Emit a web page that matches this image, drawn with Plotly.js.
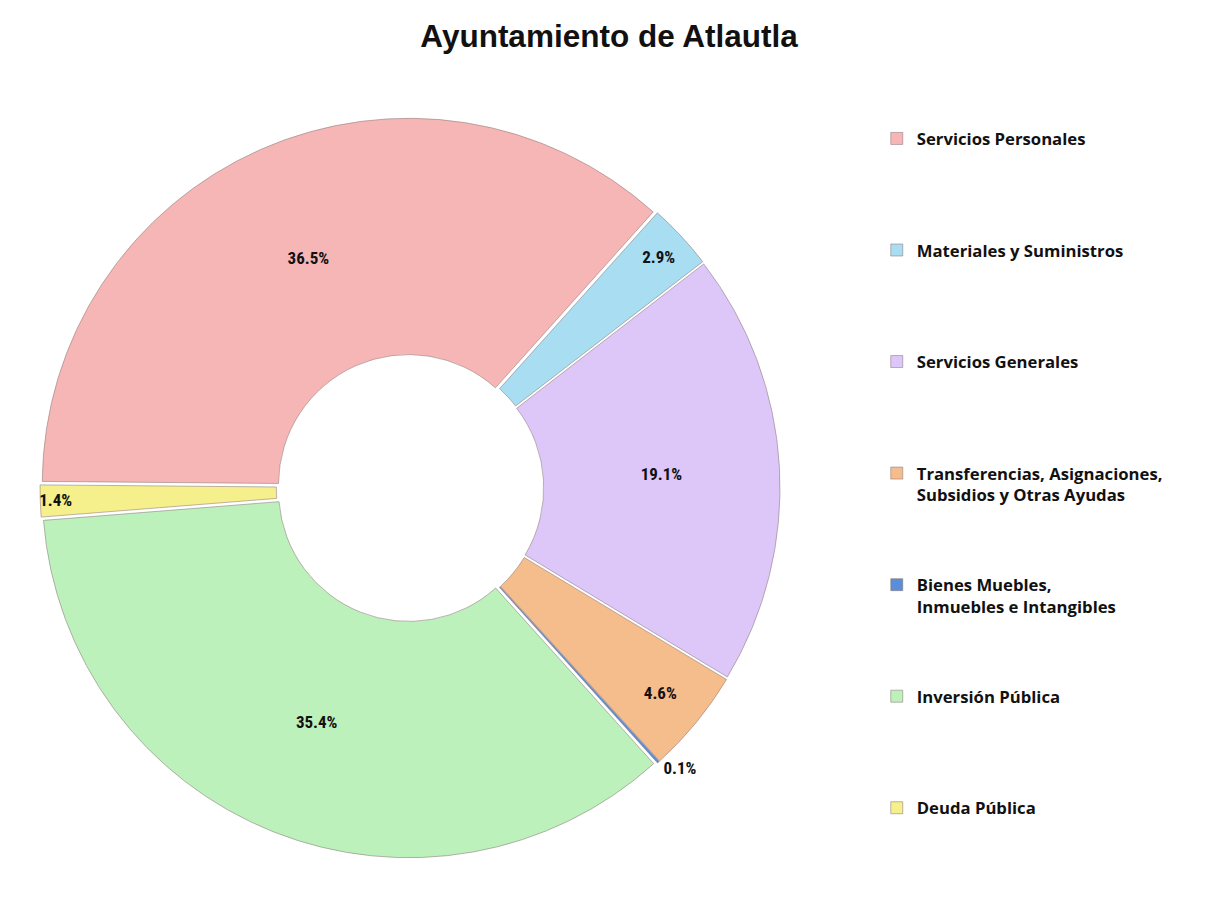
<!DOCTYPE html>
<html>
<head>
<meta charset="utf-8">
<script src="https://cdn.plot.ly/plotly-3.0.1.min.js"></script>
<style>html,body{margin:0;padding:0;background:#fff;}#chart{width:1206px;height:907px;}</style>
</head>
<body>
<div id="chart"></div>
<script>
const categories = [
  "Servicios Personales",
  "Materiales y Suministros",
  "Servicios Generales",
  "Transferencias, Asignaciones,<br>Subsidios y Otras Ayudas",
  "Bienes Muebles,<br>Inmuebles e Intangibles",
  "Inversión Pública",
  "Deuda Pública"
];
const percentages = [36.5, 2.9, 19.1, 4.6, 0.1, 35.4, 1.4];
const sliceColors = ["#F6B6B6", "#A8DDF2", "#DDC7F8", "#F5BC8C", "#5A8ED8", "#BCF1BC", "#F5F08C"];
const textPositions = ["inside", "inside", "inside", "inside", "outside", "inside", "inside"];

// pad legend entries to equal line counts so that items are evenly spaced
const LEGEND_LINES = 5;
const legendLabels = categories.map((c, i) => {
  const n = c.split("<br>").length;
  const pad = i === categories.length - 1 ? 0 : LEGEND_LINES - n;
  return c + "<br>&nbsp;".repeat(pad);
});

const trace = {
  type: "pie",
  labels: legendLabels,
  values: percentages,
  sort: false,
  direction: "clockwise",
  rotation: 270.5,
  hole: 0.355,
  pull: 0.01,
  marker: {colors: sliceColors, line: {color: "rgba(140,120,120,0.55)", width: 1}},
  texttemplate: "%{value:.1f}%",
  textposition: textPositions,
  insidetextorientation: "horizontal",
  textfont: {family: "Liberation Sans Narrow, Arial Narrow, Roboto Condensed, Liberation Sans, Arial, sans-serif", size: 17, color: "#111", weight: "bold"},
  domain: {x: [0.0332, 0.6468], y: [0.054, 0.870]},
  hoverinfo: "none"
};

const layout = {
  width: 1206,
  height: 907,
  margin: {l: 0, r: 0, t: 0, b: 0, autoexpand: false},
  paper_bgcolor: "#ffffff",
  title: {
    text: "Ayuntamiento de Atlautla",
    font: {family: "Liberation Sans, Arial, sans-serif", size: 31.5, color: "#111", weight: "bold"},
    x: 0.505, xanchor: "center", y: 0.96, yanchor: "middle", yref: "container"
  },
  uniformtext: {minsize: 17, mode: "show"},
  showlegend: true,
  legend: {
    x: 0.727, xanchor: "left",
    y: 0.8665, yanchor: "top",
    valign: "top",
    font: {family: "Open Sans, Noto Sans, sans-serif", size: 16.7, color: "#111", weight: "bold"},
    bgcolor: "rgba(0,0,0,0)"
  }
};

Plotly.newPlot("chart", [trace], layout, {displayModeBar: false, staticPlot: true});
</script>
</body>
</html>
